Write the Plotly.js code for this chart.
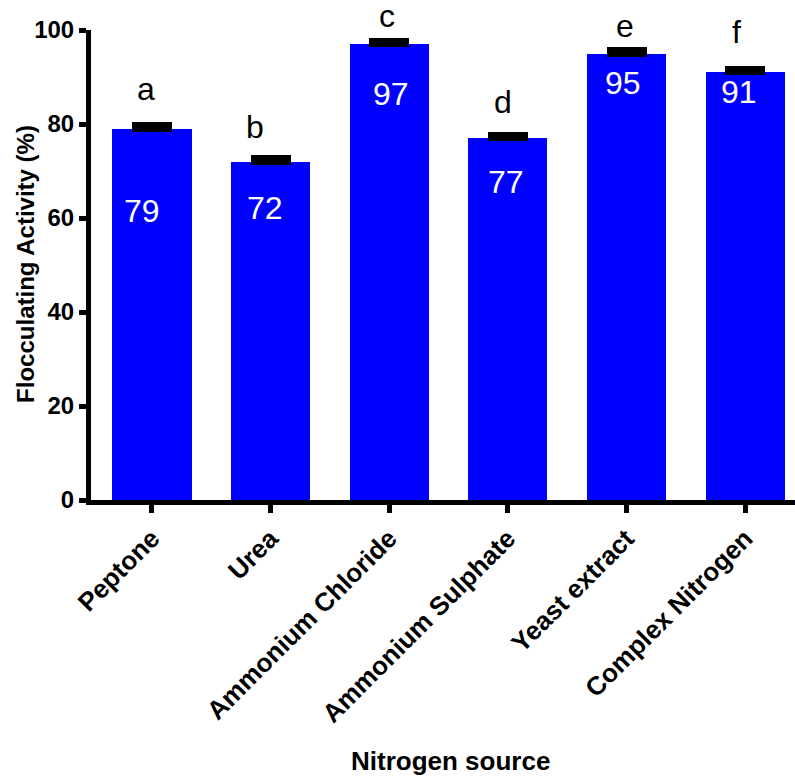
<!DOCTYPE html>
<html>
<head>
<meta charset="utf-8">
<script src="https://cdn.plot.ly/plotly-3.0.1.min.js"></script>
<style>
  html, body { margin: 0; padding: 0; background: #ffffff; }
  #chart { width: 795px; height: 778px; }
</style>
</head>
<body>
<div id="chart"></div>
<script>
// Flocculating activity for each nitrogen source
const categories = ['Peptone', 'Urea', 'Ammonium Chloride', 'Ammonium Sulphate', 'Yeast extract', 'Complex Nitrogen'];
const activity = [79, 72, 97, 77, 95, 91];
const activityError = [0.7, 0.7, 0.7, 0.7, 0.7, 0.7];
const groupLetters = ['a', 'b', 'c', 'd', 'e', 'f'];
const xTitle = 'Nitrogen source';
const yTitle = 'Flocculating Activity (%)';

// Label placement (pixels): letters above each bar, value text inside each bar
const letterLiftPx = [20, 15, 8, 16, 8, 20];
const letterShiftPx = [-6, -16, -2, -5, -2, -9];
const valueDropPx = [82, 46, 50, 44, 29, 20];
const valueShiftPx = [-10, -6, 2, -2, -4, -6];

const FONT = 'Liberation Sans, Arial, Helvetica, sans-serif';

const bars = {
  type: 'bar',
  x: categories,
  y: activity,
  width: 0.667,
  marker: { color: '#0000ff', line: { width: 0 } },
  error_y: {
    type: 'data',
    array: activityError,
    symmetric: false,
    arrayminus: activityError.map(() => 0),
    color: '#000000',
    thickness: 6,
    width: 20
  },
  hoverinfo: 'x+y'
};

const annotations = [];
categories.forEach((c, i) => {
  annotations.push({
    x: c, y: activity[i], xref: 'x', yref: 'y',
    text: groupLetters[i],
    showarrow: false,
    yanchor: 'bottom',
    yshift: letterLiftPx[i],
    xshift: letterShiftPx[i],
    font: { family: FONT, size: 32, color: '#000000' }
  });
  annotations.push({
    x: c, y: activity[i], xref: 'x', yref: 'y',
    text: String(activity[i]),
    showarrow: false,
    yanchor: 'middle',
    yshift: -valueDropPx[i],
    xshift: valueShiftPx[i],
    font: { family: FONT, size: 32, color: '#ffffff' }
  });
});

// Axis titles
annotations.push({
  xref: 'paper', yref: 'paper', x: 0.51, y: -0.555,
  xanchor: 'center', yanchor: 'middle',
  text: xTitle, showarrow: false,
  font: { family: FONT, size: 26, color: '#000000', weight: 'bold' }
});
annotations.push({
  xref: 'paper', yref: 'paper', x: -0.094, y: 0.502,
  xanchor: 'center', yanchor: 'middle', textangle: -90,
  text: yTitle, showarrow: false,
  font: { family: FONT, size: 24, color: '#000000', weight: 'bold' }
});

const layout = {
  width: 795,
  height: 778,
  margin: { l: 91, r: 0, t: 30, b: 278, pad: 0 },
  paper_bgcolor: '#ffffff',
  plot_bgcolor: '#ffffff',
  showlegend: false,
  bargap: 0,
  xaxis: {
    type: 'category',
    range: [-0.514, 5.42],
    showline: true,
    linecolor: '#000000',
    linewidth: 5,
    ticks: 'outside',
    ticklen: 8,
    tickwidth: 5,
    tickcolor: '#000000',
    tickangle: -45,
    tickfont: { family: FONT, size: 26, color: '#000000', weight: 'bold' },
    showgrid: false,
    zeroline: false
  },
  yaxis: {
    range: [0, 100],
    tickvals: [0, 20, 40, 60, 80, 100],
    showline: true,
    linecolor: '#000000',
    linewidth: 5,
    ticks: 'outside',
    ticklen: 7,
    tickwidth: 5,
    tickcolor: '#000000',
    tickfont: { family: FONT, size: 24, color: '#000000', weight: 'bold' },
    showgrid: false,
    zeroline: false
  },
  annotations: annotations
};

Plotly.newPlot('chart', [bars], layout, { displayModeBar: false, staticPlot: true });
</script>
</body>
</html>
